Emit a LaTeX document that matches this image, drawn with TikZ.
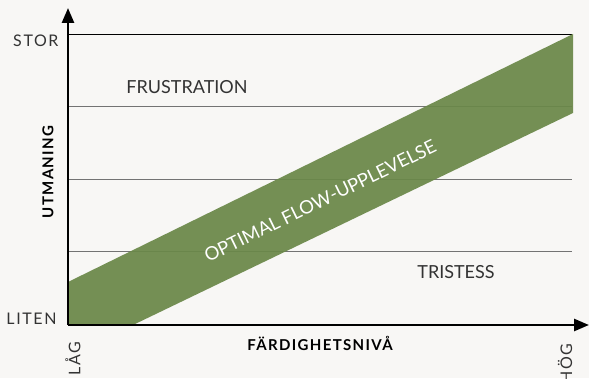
\documentclass[tikz,border=0pt]{standalone}
\usepackage{fontspec}
\setmainfont{Lato}
\usepackage{xcolor}
\usepackage{tikz}
\usetikzlibrary{arrows.meta}

\definecolor{paper}{RGB}{248,247,245}
\definecolor{flowgreen}{RGB}{106,136,72}

\tikzset{
    lbl/.style={font=\fontsize{16}{16}\selectfont\addfontfeatures{LetterSpace=10}, text=black!80},
    zonelbl/.style={font=\fontsize{18}{18}\selectfont, text=black!80},
    axislbl/.style={font=\bfseries\fontsize{15}{15}\selectfont\addfontfeatures{LetterSpace=9}},
    gridline/.style={draw=black!55, line width=0.8pt},
    axis/.style={line width=2.6pt, -{Triangle[length=15pt,width=12pt]}},
}

\begin{document}
\begin{tikzpicture}[x=1pt,y=1pt]
        \fill[paper] (0,0) rectangle (589,378);
        \clip (0,0) rectangle (589,378);
        % grid
        \draw[gridline, draw=black] (68,344) -- (572,344);
        \draw[gridline] (68,272) -- (572,272);
        \draw[gridline] (68,199) -- (572,199);
        \draw[gridline] (68,127) -- (572,127);
        % flow band
        \fill[flowgreen, fill opacity=0.93] (68,53) -- (68,96) -- (573,344) -- (573,265) -- (133,53) -- cycle;
        \node[font=\fontsize{18.5}{18.5}\selectfont, text=white, rotate=26] (flow) at (320,177) {OPTIMAL FLOW-UPPLEVELSE};
        % zones
        \node[zonelbl] (frust) at (187,291) {FRUSTRATION};
        \node[zonelbl] (trist) at (456,106) {TRISTESS};
        % axes
        \coordinate (origo) at (68,53);
        \coordinate (ytop) at (68,370);
        \coordinate (xend) at (589,53);
        \draw[axis] (origo) -- (ytop);
        \draw[axis] (origo) -- (xend);
        \node[lbl, anchor=east] (stor) at (62,337) {STOR};
        \node[lbl, anchor=east] (liten) at (60,59) {LITEN};
        \node[axislbl] (skill) at (320,35) {FÄRDIGHETSNIVÅ};
        \node[axislbl, rotate=90] (chal) at (48,206) {UTMANING};
        \node[lbl, rotate=90, anchor=east] (lag) at (73,40) {LÅG};
        \node[lbl, rotate=90, anchor=east] (hog) at (565,38) {HÖG};
\end{tikzpicture}
\end{document}
